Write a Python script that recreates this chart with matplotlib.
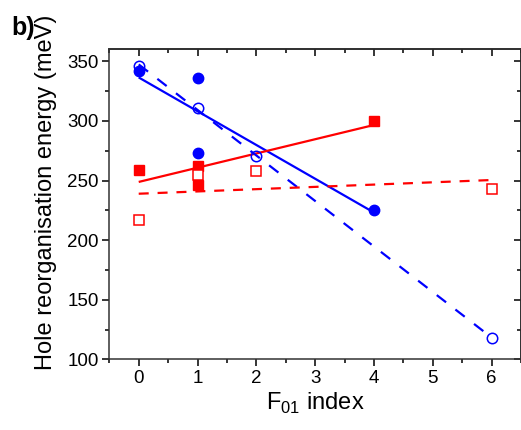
import numpy as np
import matplotlib
matplotlib.use("Agg")
import matplotlib.pyplot as plt
from matplotlib.ticker import MultipleLocator

plt.rcParams['font.family'] = ['Liberation Sans', 'DejaVu Sans']

# Data
x_fill = [0, 1, 1, 4]
blue_fill = [342, 336, 273, 225]
red_fill = [259, 262, 246, 300]

x_open = [0, 1, 2, 6]
blue_open = [346, 311, 271, 118]
red_open = [217, 255, 258, 243]

xticks = [0, 1, 2, 3, 4, 5, 6]
yticks = [100, 150, 200, 250, 300, 350]

fig = plt.figure(figsize=(5.21, 4.30), dpi=100)
ax = fig.add_axes([0.2098, 0.1644, 0.7902, 0.7206])

BLUE = '#0000ff'
RED = '#ff0000'


def fit_line(xs, ys, color, dashes=None):
    p = np.polyfit(xs, ys, 1)
    xx = np.array([min(xs), max(xs)], dtype=float)
    if dashes is None:
        ax.plot(xx, np.polyval(p, xx), color=color, lw=1.6, solid_capstyle='butt')
    else:
        ax.plot(xx, np.polyval(p, xx), color=color, lw=1.6, dashes=dashes,
                dash_capstyle='butt')


fit_line(x_fill, blue_fill, BLUE)
fit_line(x_fill, red_fill, RED)
fit_line(x_open, blue_open, BLUE, dashes=(5.3, 5.3))
fit_line(x_open, red_open, RED, dashes=(4.5, 4.0))

ax.plot(x_fill, blue_fill, 'o', color=BLUE, ms=7.5, mec=BLUE, ls='none')
ax.plot(x_open, blue_open, 'o', mfc='none', mec=BLUE, ms=7.5, mew=1.1, ls='none')
ax.plot(x_fill, red_fill, 's', color=RED, ms=6.5, ls='none')
ax.plot(x_open, red_open, 's', mfc='white', mec=RED, ms=6.5, mew=1.1, ls='none')

ax.set_xlim(-0.5, 6.5)
ax.set_ylim(100, 360)
ax.set_xticks(xticks)
ax.set_yticks(yticks)
ax.xaxis.set_minor_locator(MultipleLocator(0.5))
ax.yaxis.set_minor_locator(MultipleLocator(25))

ax.tick_params(axis='both', which='major', labelsize=13.5, length=5, width=1.1,
               direction='out', top=False, right=False, pad=2.5)
ax.tick_params(axis='both', which='minor', length=3, width=1.1,
               direction='out', top=False, right=False)

# mirrored inward ticks on top/right
secx = ax.secondary_xaxis('top')
secx.set_xticks(xticks)
secx.xaxis.set_minor_locator(MultipleLocator(0.5))
secx.tick_params(which='major', direction='in', length=5, width=1.1, labeltop=False)
secx.tick_params(which='minor', direction='in', length=3, width=1.1)
secx.set_xticklabels([])
secy = ax.secondary_yaxis('right')
secy.set_yticks(yticks)
secy.yaxis.set_minor_locator(MultipleLocator(25))
secy.tick_params(which='major', direction='in', length=5, width=1.1)
secy.tick_params(which='minor', direction='in', length=3, width=1.1)
secy.set_yticklabels([])

for s in ax.spines.values():
    s.set_linewidth(1.1)
    s.set_color('#333333')
for s in secx.spines.values():
    s.set_linewidth(1.1)
for s in secy.spines.values():
    s.set_linewidth(1.1)

ax.set_xlabel(r'F$_{\mathregular{01}}$ index', fontsize=17, labelpad=3)
ax.set_ylabel('Hole reorganisation energy (meV)', fontsize=17)
ax.yaxis.set_label_coords(-0.128, 0.54)

fig.text(0.022, 0.918, 'b)', fontsize=18, fontweight='bold')

fig.savefig('out.png', dpi=100)
